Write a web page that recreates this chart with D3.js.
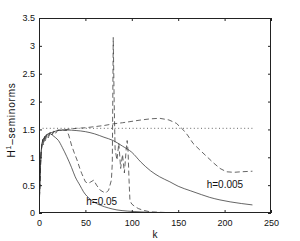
<!DOCTYPE html>
<html>
<head>
<meta charset="utf-8">
<script src="https://cdn.jsdelivr.net/npm/d3@7"></script>
<style>
  body { margin: 0; background: #fff; }
  text { font-family: "Liberation Sans", Arial, sans-serif; fill: #111; }
</style>
</head>
<body>
<div id="chart"></div>
<script>
// tick labels
var xTicks = [0, 50, 100, 150, 200, 250];
var yTicks = [0, 0.5, 1, 1.5, 2, 2.5, 3, 3.5];

// solid, h=0.005
var solidWideK = [0, 1, 2, 3, 4, 6, 8, 10, 13, 16, 20, 25, 30, 40, 50, 60, 70, 80, 90, 100, 110, 120, 130, 141, 150, 163, 175, 184, 195, 206, 218, 230];
var solidWideV = [0, 0.55, 1.0, 1.2, 1.3, 1.35, 1.38, 1.42, 1.44, 1.46, 1.48, 1.49, 1.49, 1.48, 1.46, 1.42, 1.36, 1.3, 1.2, 1.09, 0.91, 0.76, 0.65, 0.56, 0.48, 0.40, 0.33, 0.28, 0.235, 0.20, 0.17, 0.145];

// solid, h=0.05
var solidNarrowK = [0, 1, 2, 3, 4, 6, 8, 10, 12, 15, 18, 21, 25, 30, 35, 39, 44, 48, 55, 60, 66, 75, 84, 95, 110, 120, 140, 160, 190, 230];
var solidNarrowV = [0, 0.55, 1.0, 1.2, 1.3, 1.36, 1.4, 1.42, 1.42, 1.39, 1.35, 1.3, 1.18, 1.01, 0.82, 0.65, 0.5, 0.38, 0.25, 0.19, 0.14, 0.09, 0.055, 0.035, 0.02, 0.012, 0.006, 0.003, 0.001, 0];

// dashed, h=0.005
var dashWideK = [0, 1, 2, 3, 4, 5, 6, 7, 8, 10, 12, 14, 16, 18, 20, 25, 30, 40, 50, 60, 70, 80, 90, 98, 110, 120, 130, 140, 148, 155, 160, 166, 174, 181, 188, 195, 202, 210, 218, 230];
var dashWideV = [0, 0.6, 1.05, 1.22, 1.32, 1.25, 1.38, 1.33, 1.41, 1.37, 1.45, 1.41, 1.47, 1.44, 1.49, 1.48, 1.5, 1.52, 1.53, 1.55, 1.57, 1.6, 1.62, 1.64, 1.67, 1.69, 1.70, 1.67, 1.61, 1.50, 1.40, 1.25, 1.12, 1.01, 0.9, 0.8, 0.74, 0.73, 0.74, 0.75];

// dashed, h=0.05
var dashNarrowK = [0, 1, 2, 3, 4, 5, 6, 7, 8, 10, 12, 14, 16, 18, 20, 25, 30, 32, 35, 38, 41, 44, 46, 50, 53, 56, 59, 62, 66, 69, 72, 75, 78, 79, 80, 81, 82, 84, 86, 88, 90, 92, 94, 95, 96, 97, 98, 100, 103, 107, 112, 120, 135, 150, 230];
var dashNarrowV = [0, 0.5, 1.0, 1.2, 1.3, 1.22, 1.36, 1.3, 1.4, 1.35, 1.44, 1.4, 1.46, 1.43, 1.48, 1.49, 1.48, 1.40, 1.22, 1.08, 0.95, 0.8, 0.71, 0.56, 0.53, 0.56, 0.59, 0.50, 0.41, 0.38, 0.36, 0.41, 0.59, 0.9, 3.15, 2.0, 1.15, 0.95, 1.25, 0.8, 1.05, 0.72, 1.15, 1.3, 1.1, 0.6, 0.22, 0.16, 0.12, 0.08, 0.05, 0.02, 0.01, 0.005, 0];

// dotted reference level
var refK = [0, 230];
var refV = [1.52, 1.52];

// curve labels (k, value, text)
var labels = [
  { k: 51, v: 0.15, t: "h=0.05" },
  { k: 180.7, v: 0.44, t: "h=0.005" }
];

var W = 300, H = 241;
var m = { left: 39, top: 18, right: 29, bottom: 28 };

var svg = d3.select('#chart').append('svg')
  .attr('width', W)
  .attr('height', H);

var x = d3.scaleLinear().domain([0, 250]).range([m.left, W - m.right]);
var y = d3.scaleLinear().domain([0, 3.5]).range([H - m.bottom, m.top]);

var zip = function(ks, vs) {
  return ks.map(function(k, i) { return { k: k, v: vs[i] }; });
};

var series = [
  { d: zip(refK, refV), dash: '1,2.6', smooth: false },
  { d: zip(solidWideK, solidWideV), dash: null, smooth: true },
  { d: zip(solidNarrowK, solidNarrowV), dash: null, smooth: true },
  { d: zip(dashWideK, dashWideV), dash: '5,3', smooth: false },
  { d: zip(dashNarrowK, dashNarrowV), dash: '5,3', smooth: false }
];

svg.append('clipPath').attr('id', 'plot')
  .append('rect')
  .attr('x', m.left).attr('y', m.top)
  .attr('width', W - m.left - m.right)
  .attr('height', H - m.top - m.bottom);

var g = svg.append('g').attr('clip-path', 'url(#plot)');

series.forEach(function(s) {
  var line = d3.line()
    .x(function(d) { return x(d.k); })
    .y(function(d) { return y(d.v); })
    .curve(s.smooth ? d3.curveMonotoneX : d3.curveLinear);
  g.append('path')
    .datum(s.d)
    .attr('d', line)
    .attr('fill', 'none')
    .attr('stroke', '#333')
    .attr('stroke-width', 0.75)
    .attr('stroke-dasharray', s.dash);
});

// axes with inward ticks, full box
var styleAxis = function(sel, labelsOn) {
  sel.selectAll('.domain').remove();
  sel.selectAll('line').attr('stroke', '#222');
  sel.selectAll('text').style('font-size', '9px').style('font-family', '"Liberation Sans", Arial, sans-serif').attr('fill', '#111');
  if (!labelsOn) sel.selectAll('text').remove();
};

svg.append('g').attr('transform', 'translate(0,' + (H - m.bottom) + ')')
  .call(d3.axisBottom(x).tickValues(xTicks).tickSize(-3).tickSizeOuter(0).tickPadding(7).tickFormat(d3.format('d')))
  .call(styleAxis, true);
svg.append('g').attr('transform', 'translate(0,' + m.top + ')')
  .call(d3.axisTop(x).tickValues(xTicks).tickSize(-3).tickSizeOuter(0))
  .call(styleAxis, false);
svg.append('g').attr('transform', 'translate(' + m.left + ',0)')
  .call(d3.axisLeft(y).tickValues(yTicks).tickSize(-3).tickSizeOuter(0).tickPadding(4).tickFormat(function(d) { return String(d); }))
  .call(styleAxis, true);
svg.append('g').attr('transform', 'translate(' + (W - m.right) + ',0)')
  .call(d3.axisRight(y).tickValues(yTicks).tickSize(-3).tickSizeOuter(0))
  .call(styleAxis, false);

svg.append('rect')
  .attr('x', m.left + 0.5).attr('y', m.top + 0.5)
  .attr('width', W - m.left - m.right - 1)
  .attr('height', H - m.top - m.bottom - 1)
  .attr('fill', 'none')
  .attr('stroke', '#222')
  .attr('stroke-width', 1);

svg.selectAll('.lbl').data(labels).enter().append('text')
  .attr('class', 'lbl')
  .attr('x', function(d) { return x(d.k); })
  .attr('y', function(d) { return y(d.v); })
  .style('font-size', '10px')
  .text(function(d) { return d.t; });

svg.append('text')
  .attr('x', 155).attr('y', 238)
  .attr('text-anchor', 'middle')
  .style('font-size', '10px')
  .text('k');

var yl = svg.append('text')
  .attr('transform', 'translate(15,120) rotate(-90)')
  .attr('text-anchor', 'middle')
  .style('font-size', '10px')
  .style('letter-spacing', '0.8px');
yl.append('tspan').text('H');
yl.append('tspan').attr('dy', -4).style('font-size', '7px').text('1');
yl.append('tspan').attr('dy', 4).text('\u2013seminorms');
</script>
</body>
</html>
